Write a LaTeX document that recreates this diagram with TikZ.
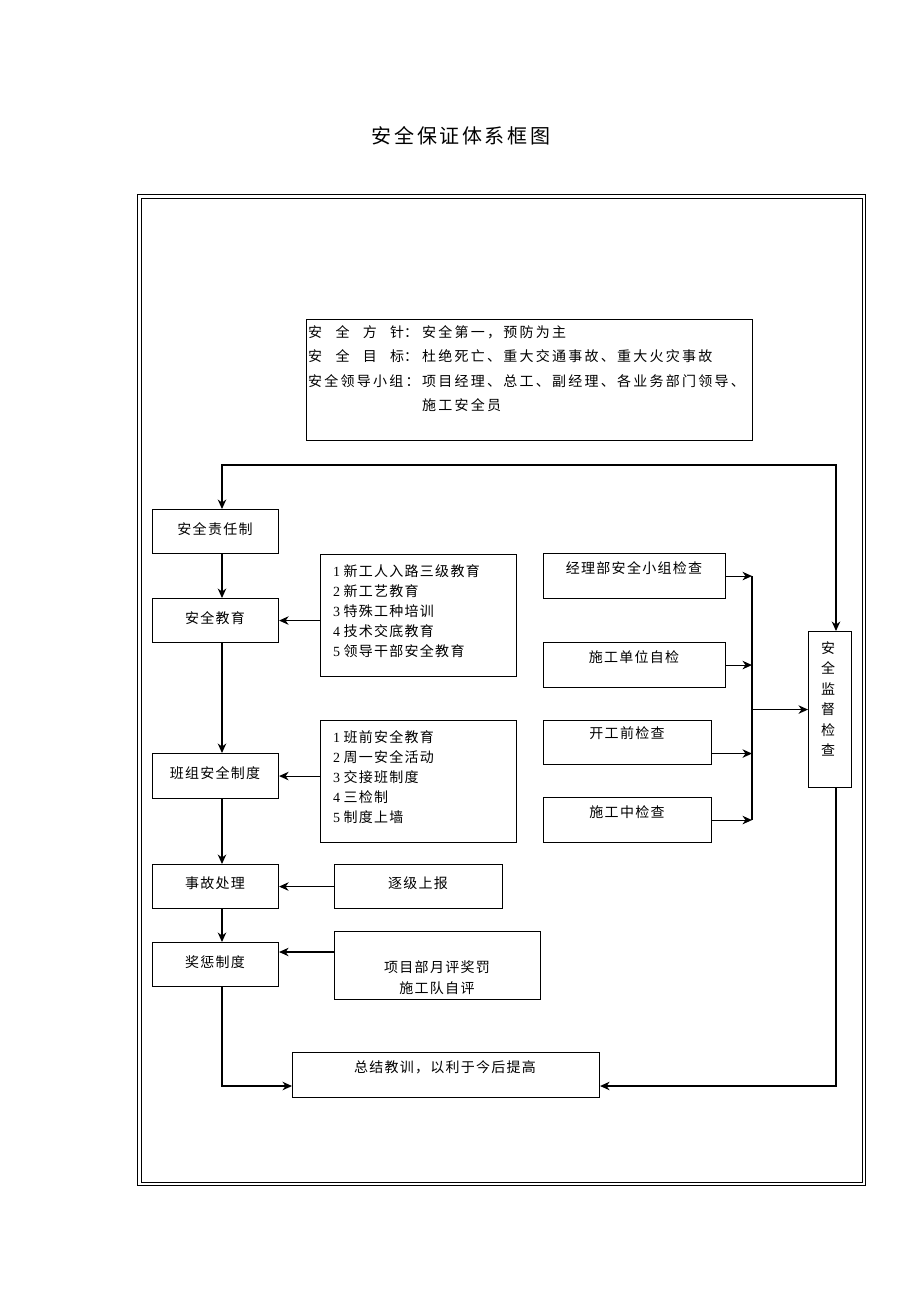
\documentclass[tikz,border=0pt]{standalone}
\usepackage{fontspec}
\setmainfont{Liberation Serif}
\newfontfamily\cjk[LetterSpace=9]{Noto Sans CJK SC}
\newfontfamily\cjkw[LetterSpace=16]{Noto Sans CJK SC}
\newfontfamily\cjkt[LetterSpace=13]{Noto Sans CJK SC}
\newfontfamily\lat{Liberation Serif}
\usetikzlibrary{arrows.meta,calc}
\begin{document}
\begin{tikzpicture}[x=1pt,y=-1pt,
  box/.style={draw,line width=1.1pt,inner sep=0pt,anchor=north west},
  txt/.style={font=\cjk\fontsize{14}{20}\selectfont,inner sep=0pt},
  arr/.style={-{Stealth[length=9.5pt,width=8.5pt,inset=3pt]},line width=1.1pt},
  arrboth/.style={{Stealth[length=9.5pt,width=8.5pt,inset=3pt]}-{Stealth[length=9.5pt,width=8.5pt,inset=3pt]},line width=1.1pt},
  link/.style={line width=1.1pt}]
\useasboundingbox (0,0) rectangle (920,1302);
% title
\node[inner sep=0pt,font=\cjkt\fontsize{20}{24}\selectfont] (title) at (461,136) {安全保证体系框图};
% frame
\draw[line width=1.8pt] (137.5,194.5) rectangle (865.5,1185.5);
\draw[line width=0.8pt] (141,198) rectangle (862,1182);
% top box
\node[box,minimum width=446pt,minimum height=121pt] (top) at (306,319) {};
\node[inner sep=0pt,anchor=west,align=left,font=\cjkw\fontsize{14}{24.3}\selectfont] (toptxt) at (308,368.5)
 {\makebox[114pt][l]{\hbox to 96pt{安\hfill 全\hfill 方\hfill 针}：}安全第一，预防为主\\
  \makebox[114pt][l]{\hbox to 96pt{安\hfill 全\hfill 目\hfill 标}：}杜绝死亡、重大交通事故、重大火灾事故\\
  \makebox[114pt][l]{安全领导小组：}项目经理、总工、副经理、各业务部门领导、\\
  \makebox[114pt][l]{}施工安全员};
% left column
\node[box,minimum width=126pt,minimum height=44pt] (zr) at (152,509) {};
\node[txt] (zrt) at (215,529) {安全责任制};
\node[box,minimum width=126pt,minimum height=44pt] (jy) at (152,598) {};
\node[txt] (jyt) at (215,618) {安全教育};
\node[box,minimum width=126pt,minimum height=45pt] (bz) at (152,753) {};
\node[txt] (bzt) at (215,773) {班组安全制度};
\node[box,minimum width=126pt,minimum height=44pt] (sg) at (152,864) {};
\node[txt] (sgt) at (215,883) {事故处理};
\node[box,minimum width=126pt,minimum height=44pt] (jc) at (152,942) {};
\node[txt] (jct) at (215,962) {奖惩制度};
% middle column
\node[box,minimum width=196pt,minimum height=122pt] (l1) at (320,554) {};
\node[txt,anchor=west,align=left] (l1t) at (333,611)
 {{\lat 1 }新工人入路三级教育\\{\lat 2 }新工艺教育\\{\lat 3 }特殊工种培训\\{\lat 4 }技术交底教育\\{\lat 5 }领导干部安全教育};
\node[box,minimum width=196pt,minimum height=122pt] (l2) at (320,720) {};
\node[txt,anchor=west,align=left] (l2t) at (333,777.5)
 {{\lat 1 }班前安全教育\\{\lat 2 }周一安全活动\\{\lat 3 }交接班制度\\{\lat 4 }三检制\\{\lat 5 }制度上墙};
\node[box,minimum width=168pt,minimum height=44pt] (zb) at (334,864) {};
\node[txt] (zbt) at (418,883) {逐级上报};
\node[box,minimum width=206pt,minimum height=68pt] (xm) at (334,931) {};
\node[txt,align=center,font=\cjk\fontsize{14}{21}\selectfont] (xmt) at (437,977.5) {项目部月评奖罚\\施工队自评};
% checks
\node[box,minimum width=182pt,minimum height=45pt] (c1) at (543,553) {};
\node[txt] (c1t) at (634,568) {经理部安全小组检查};
\node[box,minimum width=182pt,minimum height=45pt] (c2) at (543,642) {};
\node[txt] (c2t) at (634,657) {施工单位自检};
\node[box,minimum width=168pt,minimum height=44pt] (c3) at (543,720) {};
\node[txt] (c3t) at (627,733) {开工前检查};
\node[box,minimum width=168pt,minimum height=45pt] (c4) at (543,797) {};
\node[txt] (c4t) at (627,812) {施工中检查};
\node[box,minimum width=43pt,minimum height=156pt] (jd) at (808,631) {};
\node[txt,align=center,font=\cjk\fontsize{14}{20.4}\selectfont] (jdt) at (828,699) {安\\全\\监\\督\\检\\查};
% summary
\node[box,minimum width=307pt,minimum height=45pt] (zj) at (292,1052) {};
\node[txt] (zjt) at (445,1067) {总结教训，以利于今后提高};
% coordinates
\coordinate (tl) at (222,465);
\coordinate (tr) at (836,465);
\coordinate (bl) at (222,1086);
\coordinate (br) at (836,1086);
\coordinate (bus) at (752,0);
\coordinate (a5) at (0,952);
\coordinate (a3) at ($(c3.east)+(0,11)$);
% connectors
\draw[arrboth] (zr.north -| tl) -- (tl) -- (tr) -- (jd.north -| tr);
\draw[arr] (zr.south -| tl) -- (jy.north -| tl);
\draw[arr] (jy.south -| tl) -- (bz.north -| tl);
\draw[arr] (bz.south -| tl) -- (sg.north -| tl);
\draw[arr] (sg.south -| tl) -- (jc.north -| tl);
\draw[arr] (jc.south -| bl) -- (bl) -- (zj.west |- bl);
\draw[arr] (jd.south -| br) -- (br) -- (zj.east |- br);
\draw[arr] (l1.west |- jy.east) -- (jy.east);
\draw[arr] (l2.west |- bz.east) -- (bz.east);
\draw[arr] (zb.west) -- (sg.east |- zb.west);
\draw[arr] (xm.west |- a5) -- (jc.east |- a5);
\draw[arr] (c1.east) -- (c1.east -| bus);
\draw[arr] (c2.east) -- (c2.east -| bus);
\draw[arr] (a3) -- (a3 -| bus);
\draw[arr] (c4.east) -- (c4.east -| bus);
\draw[link] (c1.east -| bus) -- (c4.east -| bus);
\draw[arr] (jd.west -| bus) -- (jd.west);
\end{tikzpicture}
\end{document}
